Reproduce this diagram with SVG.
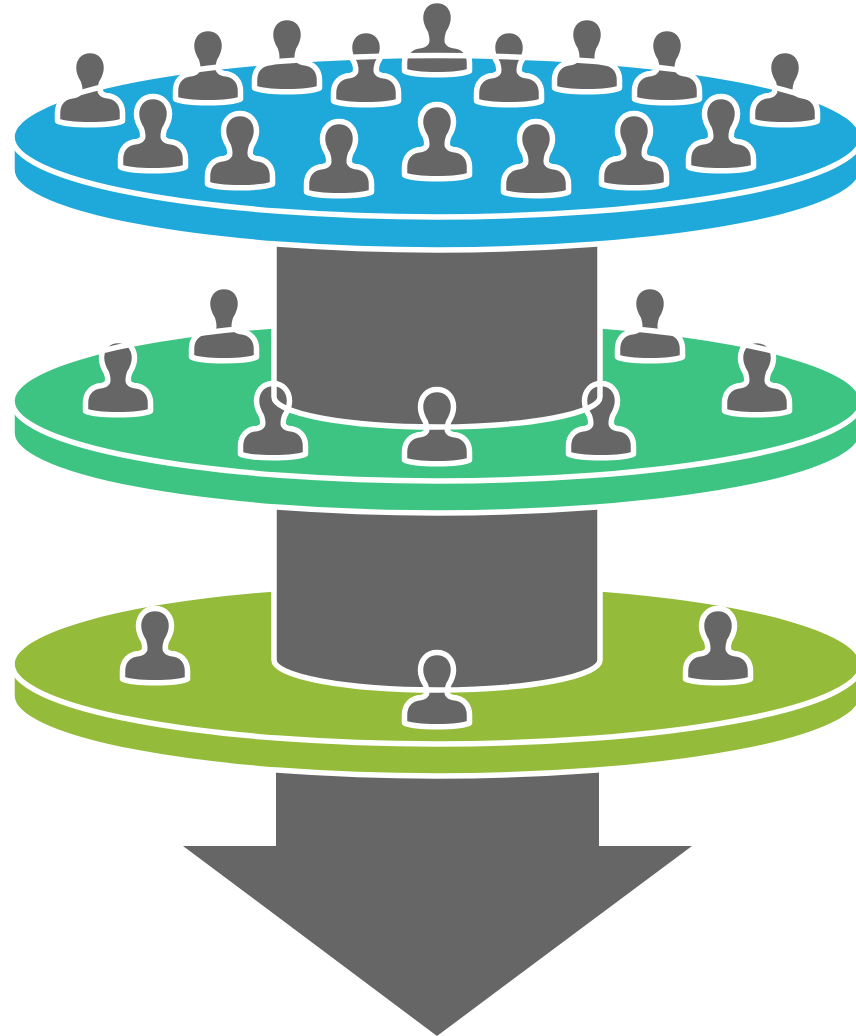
<svg xmlns="http://www.w3.org/2000/svg" width="856" height="1036" viewBox="0 0 856 1036">
<style>
.g{fill:#666}
.l{fill:none;stroke:#fff;stroke-width:5.5}
.p{fill:#666;stroke:#fff;stroke-width:5.5;stroke-linejoin:round}
</style>
<defs>
<path id="person" d="M0,-2.500C10,-2.500 16.500,5 16.500,15C16.500,22 14,26 11.500,30C10.500,33 10,37 10.500,39C11.500,41 13,42 16,42.500C26,43 32.500,50 32.500,60L32.500,68C22,73 -22,73 -32.500,68L-32.500,60C-32.500,50 -26,43 -16,42.500C-13,42 -11.500,41 -10.500,39C-10,37 -10.500,33 -11.500,30C-14,26 -16.500,22 -16.500,15C-16.500,5 -10,-2.500 0,-2.500Z"/>
</defs>
<rect width="856" height="1036" fill="#fff"/>
<path id="arrow" class="g" d="M276,770H599V846H692L437,1036L183,846H276Z"/>

<g id="plate-olive">
<path class="l" style="fill:#94bc3a" d="M12,664V696A425,80 0 0 0 862,696V664Z"/>
<ellipse style="fill:#94bc3a" cx="437" cy="664" rx="425" ry="80"/>
<path class="l" d="M12,664A425,80 0 0 0 862,664"/>
<path class="l" d="M12,664A425,81.500 0 0 1 272,589M602,589A425,81.500 0 0 1 862,664"/>
</g>
<path id="cyl-olive" class="g" d="M274,505H600V660A163,30 0 0 1 274,660Z"/>
<g id="people-olive">
<g id="o1"><use href="#person" class="p" x="155" y="611"/></g>
<g id="o2"><use href="#person" class="p" x="718" y="611"/></g>
<g id="o3"><use href="#person" class="p" x="437" y="655"/></g>
</g>
<path class="l" d="M274,505V660A163,30 0 0 0 600,660V505"/>

<g id="plate-green">
<path class="l" style="fill:#3ec482" d="M12,401V433A425,80 0 0 0 862,433V401Z"/>
<ellipse style="fill:#3ec482" cx="437" cy="401" rx="425" ry="80"/>
<path class="l" d="M12,401A425,80 0 0 0 862,401"/>
</g>
<path id="cyl-green" class="g" d="M274,245H600V397A163,30 0 0 1 274,397Z"/>
<g id="people-green">
<g id="g1"><use href="#person" class="p" x="224" y="289"/></g>
<g id="g2"><use href="#person" class="p" x="650" y="289"/></g>
<g id="g3"><use href="#person" class="p" x="118" y="343"/></g>
<g id="g4"><use href="#person" class="p" x="757" y="343"/></g>
<g id="g5"><use href="#person" class="p" x="273" y="386"/></g>
<g id="g6"><use href="#person" class="p" x="437" y="392"/></g>
<g id="g7"><use href="#person" class="p" x="601" y="386"/></g>
</g>
<path class="l" d="M12,401A425,81.500 0 0 1 272,326M602,326A425,81.500 0 0 1 862,401"/>
<path class="l" d="M274,245V397A163,30 0 0 0 600,397V245"/>

<g id="plate-blue">
<path class="l" style="fill:#1fa9db" d="M12,137V170A425,80 0 0 0 862,170V137Z"/>
<ellipse style="fill:#1fa9db" cx="437" cy="137" rx="425" ry="80"/>
<path class="l" d="M12,137A425,80 0 0 0 862,137"/>
</g>
<g id="people-blue-back">
<g id="b1"><use href="#person" class="p" x="90" y="53"/></g>
<g id="b2"><use href="#person" class="p" x="208" y="31"/></g>
<g id="b3"><use href="#person" class="p" x="287" y="20"/></g>
<g id="b4"><use href="#person" class="p" x="366" y="33"/></g>
<g id="b5"><use href="#person" class="p" x="437" y="3"/></g>
<g id="b6"><use href="#person" class="p" x="509" y="33"/></g>
<g id="b7"><use href="#person" class="p" x="587" y="20"/></g>
<g id="b8"><use href="#person" class="p" x="667" y="31"/></g>
<g id="b9"><use href="#person" class="p" x="785" y="53"/></g>
</g>
<path class="l" d="M12,137A425,81.500 0 0 1 862,137"/>
<g id="people-blue-front">
<g id="f1"><use href="#person" class="p" x="153" y="99"/></g>
<g id="f2"><use href="#person" class="p" x="240" y="116"/></g>
<g id="f3"><use href="#person" class="p" x="339" y="124"/></g>
<g id="f4"><use href="#person" class="p" x="437" y="107"/></g>
<g id="f5"><use href="#person" class="p" x="536" y="124"/></g>
<g id="f6"><use href="#person" class="p" x="634" y="116"/></g>
<g id="f7"><use href="#person" class="p" x="721" y="99"/></g>
</g>
</svg>
